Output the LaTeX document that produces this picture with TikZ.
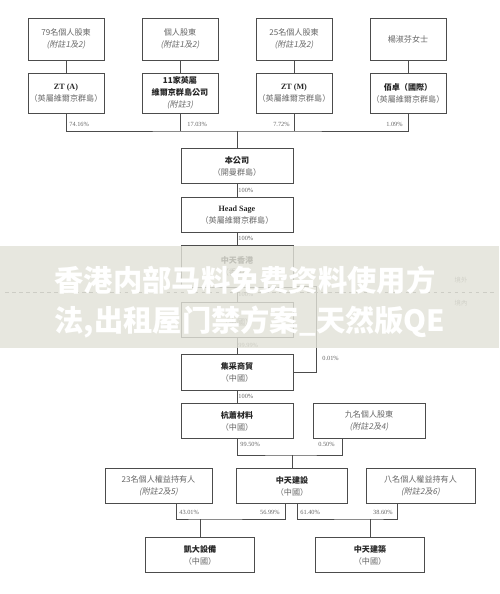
\documentclass[tikz,border=0pt]{standalone}
\usepackage{fontspec}
\setmainfont{Liberation Serif}
\newfontfamily\cjk{Noto Sans CJK TC}
\newfontfamily\cjkit{Noto Sans CJK TC}[FakeSlant=0.2]
\newfontfamily\wmark{Noto Sans CJK SC}
\newcommand{\coname}[1]{{\bfseries\color{black!85}#1}}
\newcommand{\lat}[1]{{\rmfamily\bfseries\color{black!85}#1}}
\newcommand{\note}[1]{{\cjkit #1}}
\usetikzlibrary{positioning}

\begin{document}
\begin{tikzpicture}[x=0.03cm, y=-0.03cm,
  line/.style={draw=black!70, line width=0.55pt},
  box/.style={line, rectangle, align=center, inner sep=1pt, text=black!60,
    font=\cjk\fontsize{6.9}{10.2}\selectfont},
  topbox/.style={box, minimum width=2.28cm, minimum height=1.26cm},
  holdbox/.style={box, minimum width=2.28cm, minimum height=1.2cm},
  mainbox/.style={box, minimum width=3.36cm, minimum height=1.04cm},
  pct/.style={font=\fontsize{5.4}{6}\selectfont, text=black!60, inner sep=1pt},
  zone/.style={font=\cjk\fontsize{5.4}{6}\selectfont, text=black!50}]
  \useasboundingbox (0,0) rectangle (499,594);

  \node (p79) [topbox] at (66,39) {79名個人股東\\\note{(附註1及2)}};
  \node (pind) [topbox] at (180,39) {個人股東\\\note{(附註1及2)}};
  \node (p25) [topbox] at (294,39) {25名個人股東\\\note{(附註1及2)}};
  \node (yang) [topbox] at (408,39) {楊淑芬女士};
  \node (zta) [holdbox] at (66,93) {\lat{ZT (A)}\\（英屬維爾京群島）};
  \node (bvi11) [holdbox] at (180,93) {\coname{11家英屬}\\\coname{維爾京群島公司}\\\note{(附註3)}};
  \node (ztm) [holdbox] at (294,93) {\lat{ZT (M)}\\（英屬維爾京群島）};
  \node (baizhuo) [holdbox] at (408,93) {\coname{佰卓（國際）}\\（英屬維爾京群島）};
  \coordinate (bus1) at (237,131);

  \node (company) [mainbox] at (237,166) {\coname{本公司}\\（開曼群島）};
  \node (headsage) [mainbox] at (237,215) {\lat{Head Sage}\\（英屬維爾京群島）};
  \node (hk) [mainbox, minimum height=1.26cm] at (237,266) {\coname{中天香港}\\（香港）};
  \node (wfoe) [mainbox] at (237,320) {\\（中國）};
  \node (jicai) [mainbox, minimum height=1.08cm] at (237,372) {\coname{集采商貿}\\（中國）};
  \node (hangxiao) [mainbox] at (237,421) {\coname{杭蕭材料}\\（中國）};
  \node (nine) [mainbox] at (369,421) {九名個人股東\\\note{(附註2及4)}};
  \coordinate (bus3) at (292,455);

  \node (ztjs) [mainbox, minimum width=3.33cm] at (292,486) {\coname{中天建設}\\（中國）};
  \node (p23) [mainbox, minimum width=3.21cm] at (158.5,486) {23名個人權益持有人\\\note{(附註2及5)}};
  \node (p8) [mainbox, minimum width=3.27cm] at (420.5,486) {八名個人權益持有人\\\note{(附註2及6)}};
  \coordinate (bus4) at (200,519);
  \coordinate (bus5) at (370,519);
  \node (kaida) [mainbox, minimum width=3.27cm] at (200,555) {\coname{凱大設備}\\（中國）};
  \node (ztjz) [mainbox, minimum width=3.27cm] at (370,555) {\coname{中天建築}\\（中國）};

  \draw[line] (p79) -- (zta);
  \draw[line] (pind) -- (bvi11);
  \draw[line] (p25) -- (ztm);
  \draw[line] (yang) -- (baizhuo);
  \draw[line] (zta.south) |- (bus1) -| (baizhuo.south);
  \draw[line] (bvi11.south) -- (bvi11.south |- bus1);
  \draw[line] (ztm.south) -- (ztm.south |- bus1);
  \draw[line] (bus1) -- (company);
  \node[pct, anchor=west] at (68,124) {74.16\%};
  \node[pct, anchor=west] at (186,124) {17.03\%};
  \node[pct, anchor=east] at (291,124) {7.72\%};
  \node[pct, anchor=east] at (404,124) {1.09\%};

  \draw[line] (company) -- node[pct, right] {100\%} (headsage);
  \draw[line] (headsage) -- node[pct, right] {100\%} (hk);
  \draw[line] (hk) -- node[pct, right] {100\%} (wfoe);
  \draw[line] (wfoe) -- node[pct, right] {99.99\%} (jicai);
  \draw[line] (hk.-20) -- ++(23,0) |- (jicai.east);
  \node[pct, anchor=west] at (321,358) {0.01\%};
  \draw[line] (jicai) -- node[pct, right] {100\%} (hangxiao);

  \draw[black!55, line width=0.5pt, dashed] (5,292) -- (495,292);
  \node[zone] at (461,280) {境外};
  \node[zone] at (461,303) {境內};

  \draw[line] (hangxiao.south) |- (bus3) -| ([xshift=-0.81cm]nine.south);
  \draw[line] (bus3) -- (ztjs);
  \node[pct, anchor=west] at (239,444) {99.50\%};
  \node[pct, anchor=east] at (336,444) {0.50\%};

  \draw[line] ([xshift=0.525cm]p23.south) |- (bus4) -| ([xshift=-0.21cm]ztjs.south);
  \draw[line] (bus4) -- (kaida);
  \draw[line] ([xshift=0.15cm]ztjs.south) |- (bus5) -| ([xshift=-0.69cm]p8.south);
  \draw[line] (bus5) -- (ztjz);
  \node[pct, anchor=west] at (178,512) {43.01\%};
  \node[pct, anchor=east] at (281,512) {56.99\%};
  \node[pct, anchor=west] at (299,512) {61.40\%};
  \node[pct, anchor=east] at (394,512) {38.60\%};

  \fill[fill={rgb,255:red,226;green,226;blue,216}, opacity=0.82] (0,246) rectangle (499,348);
  \node (banner) [align=left, text=white, inner sep=0pt,
    font=\wmark\bfseries\fontsize{25}{34}\selectfont] at (250,302)
    {香港内部马料免费资料使用方\\法,出租屋门禁方案\_天然版QE};
\end{tikzpicture}
\end{document}
